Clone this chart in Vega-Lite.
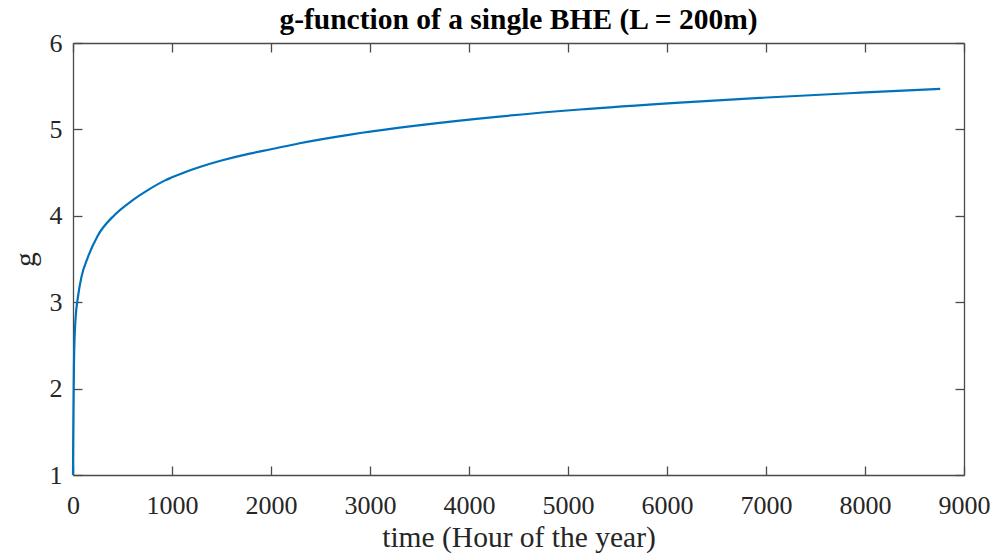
{
  "$schema": "https://vega.github.io/schema/vega-lite/v6.json",
  "width": 891,
  "height": 432,
  "autosize": {"type": "none"},
  "padding": {"left": 73, "top": 43, "right": 41, "bottom": 82},
  "background": "white",
  "config": {
    "view": {"stroke": null},
    "font": "Liberation Serif",
    "axis": {
      "grid": false,
      "domainColor": "#4a4a4a",
      "domainWidth": 1.3,
      "tickColor": "#4a4a4a",
      "tickWidth": 1.3,
      "tickSize": -9,
      "labelFont": "Liberation Serif",
      "labelFontSize": 26,
      "labelColor": "#262626",
      "labelFontWeight": "normal",
      "titleFont": "Liberation Serif",
      "titleFontSize": 29.5,
      "titleFontWeight": "normal",
      "titleColor": "#262626"
    },
    "title": {"font": "Liberation Serif", "fontSize": 29.5, "fontWeight": "bold", "color": "#000000"}
  },
  "title": {"text": "g-function of a single BHE (L = 200m)", "anchor": "middle", "offset": -5},
  "data": {
    "values": [
      {"time": 0, "g": 1.0},
      {"time": 2, "g": 1.4},
      {"time": 5, "g": 1.75},
      {"time": 10, "g": 2.3},
      {"time": 17, "g": 2.62},
      {"time": 27, "g": 2.83},
      {"time": 50, "g": 3.06},
      {"time": 85, "g": 3.29},
      {"time": 150, "g": 3.52},
      {"time": 250, "g": 3.77},
      {"time": 420, "g": 4.01},
      {"time": 590, "g": 4.17},
      {"time": 760, "g": 4.3},
      {"time": 930, "g": 4.41},
      {"time": 1000, "g": 4.445},
      {"time": 1130, "g": 4.505},
      {"time": 1280, "g": 4.565},
      {"time": 1500, "g": 4.64},
      {"time": 1785, "g": 4.72},
      {"time": 2000, "g": 4.77},
      {"time": 2290, "g": 4.84},
      {"time": 2800, "g": 4.94},
      {"time": 3300, "g": 5.02},
      {"time": 4100, "g": 5.125},
      {"time": 5120, "g": 5.23},
      {"time": 6130, "g": 5.31},
      {"time": 6940, "g": 5.365},
      {"time": 7950, "g": 5.425},
      {"time": 8760, "g": 5.47}
    ]
  },
  "layer": [
    {
      "mark": {"type": "line", "color": "#0072BD", "strokeWidth": 2.2, "interpolate": "monotone"},
      "encoding": {
        "x": {"field": "time", "type": "quantitative", "scale": {"domain": [0, 9000], "nice": false},
              "axis": {"title": "time (Hour of the year)", "format": "d", "values": [0,1000,2000,3000,4000,5000,6000,7000,8000,9000], "labelPadding": 26, "titlePadding": 5, "labelFlush": false, "labelOverlap": false}},
        "y": {"field": "g", "type": "quantitative", "scale": {"domain": [1, 6], "nice": false, "zero": false},
              "axis": {"title": "g", "format": "d", "values": [1,2,3,4,5,6], "labelPadding": 20, "titlePadding": 9, "labelFlush": false, "labelOverlap": false}}
      }
    },
    {
      "mark": {"type": "line", "opacity": 0},
      "encoding": {
        "x": {"field": "time", "type": "quantitative",
              "axis": {"orient": "top", "title": null, "labels": false, "values": [0,1000,2000,3000,4000,5000,6000,7000,8000,9000]}},
        "y": {"field": "g", "type": "quantitative",
              "axis": {"orient": "right", "title": null, "labels": false, "values": [1,2,3,4,5,6]}}
      }
    }
  ],
  "resolve": {"axis": {"x": "independent", "y": "independent"}}
}
